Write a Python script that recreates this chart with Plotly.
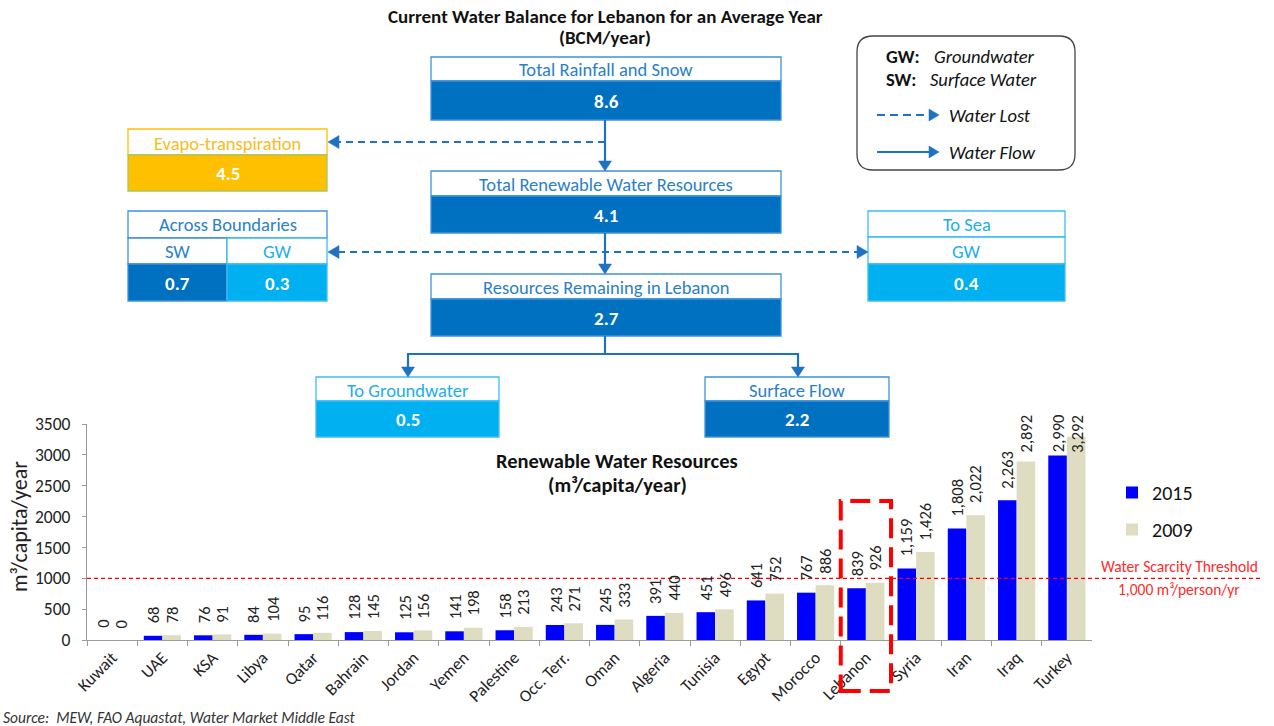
import plotly.graph_objects as go

W, H = 1274, 726

# ---- renewable water resources per capita (m3/capita/year) ----
countries = ["Kuwait", "UAE", "KSA", "Libya", "Qatar", "Bahrain", "Jordan", "Yemen",
             "Palestine", "Occ. Terr.", "Oman", "Algeria", "Tunisia", "Egypt", "Morocco",
             "Lebanon", "Syria", "Iran", "Iraq", "Turkey"]
res_2015 = [0, 68, 76, 84, 95, 128, 125, 141, 158, 243, 245, 391, 451, 641, 767,
            839, 1159, 1808, 2263, 2990]
res_2009 = [0, 78, 91, 104, 116, 145, 156, 198, 213, 271, 333, 440, 496, 752, 886,
            926, 1426, 2022, 2892, 3292]
series_names = ["2015", "2009"]
y_ticks = [0, 500, 1000, 1500, 2000, 2500, 3000, 3500]
scarcity_threshold = 1000
highlight_country = "Lebanon"

# ---- water balance for Lebanon (BCM/year) ----
rainfall_snow = 8.6
evapotranspiration = 4.5
total_renewable = 4.1
boundary_sw = 0.7
boundary_gw = 0.3
to_sea_gw = 0.4
remaining_lebanon = 2.7
to_groundwater = 0.5
surface_flow = 2.2

FONT = "Carlito, Lato, 'Open Sans', sans-serif"
DARK = "#0070C0"
LIGHT = "#00B0F0"
GOLD = "#FFC000"
DARK_TXT = "#2A7FC9"
LIGHT_TXT = "#1AAEEE"
DARK_EDGE = "#3F93DA"
LIGHT_EDGE = "#3DBDF3"
FLOW = "#1F72C2"
RED = "#FF0000"

HDR = 18.5   # box header text size
VAL = 19     # box value text size


def X(px):
    return px / W


def Y(py):
    return 1 - py / H


shapes = []
annotations = []


def rect(x0, y0, x1, y1, fill=None, edge=None, lw=1.3):
    shapes.append(dict(type="rect", xref="paper", yref="paper",
                       x0=X(x0), x1=X(x1), y0=Y(y1), y1=Y(y0),
                       fillcolor=fill or "rgba(0,0,0,0)",
                       line=dict(color=edge or "rgba(0,0,0,0)", width=lw if edge else 0),
                       layer="above"))


def line(x0, y0, x1, y1, color=FLOW, width=2.2, dash=None):
    ln = dict(color=color, width=width)
    if dash:
        ln["dash"] = dash
    shapes.append(dict(type="line", xref="paper", yref="paper",
                       x0=X(x0), x1=X(x1), y0=Y(y0), y1=Y(y1), line=ln, layer="above"))


def head(tx, ty, d, w=13, l=10, color=FLOW):
    if d == "down":
        pts = [(tx - w / 2, ty - l), (tx + w / 2, ty - l), (tx, ty)]
    elif d == "left":
        pts = [(tx + l, ty - w / 2), (tx + l, ty + w / 2), (tx, ty)]
    else:
        pts = [(tx - l, ty - w / 2), (tx - l, ty + w / 2), (tx, ty)]
    path = "M" + " L".join(f"{X(a):.5f},{Y(b):.5f}" for a, b in pts) + " Z"
    shapes.append(dict(type="path", xref="paper", yref="paper", path=path,
                       fillcolor=color, line=dict(color=color, width=0.5), layer="above"))


def text(x, y, s, size=15, color="#222", bold=False, italic=False,
         xanchor="center", angle=0):
    if bold:
        s = f"<b>{s}</b>"
    if italic:
        s = f"<i>{s}</i>"
    annotations.append(dict(x=X(x), y=Y(y), xref="paper", yref="paper", text=s,
                            showarrow=False, xanchor=xanchor, yanchor="middle",
                            textangle=angle,
                            font=dict(family=FONT, size=size, color=color)))


def flow_box(x0, x1, top, mid, bottom, title, value, fill, title_color, edge,
             value_edge=None):
    rect(x0, top, x1, mid, fill="white", edge=edge)
    rect(x0, mid, x1, bottom, fill=fill, edge=value_edge or edge)
    text((x0 + x1) / 2, (top + mid) / 2 + 1, title, HDR, title_color)
    text((x0 + x1) / 2, (mid + bottom) / 2 + 1, f"{value:.1f}", VAL, "white", bold=True)


# ---- water balance diagram ----
text(605, 16, "Current Water Balance for Lebanon for an Average Year", 19, "#111", bold=True)
text(605, 38, "(BCM/year)", 19, "#111", bold=True)

flow_box(431, 781, 57, 81, 120, "Total Rainfall and Snow", rainfall_snow, DARK, DARK_TXT, DARK_EDGE)
flow_box(128, 327, 129, 155, 191, "Evapo-transpiration", evapotranspiration, GOLD,
         "#F7BD1C", GOLD, value_edge="#A9C55E")
flow_box(431, 781, 171, 196, 233, "Total Renewable Water Resources", total_renewable,
         DARK, DARK_TXT, DARK_EDGE)
flow_box(431, 781, 274, 299, 336, "Resources Remaining in Lebanon", remaining_lebanon,
         DARK, DARK_TXT, DARK_EDGE)
flow_box(316, 499, 377, 401, 437, "To Groundwater", to_groundwater, LIGHT, LIGHT_TXT, LIGHT_EDGE)
flow_box(705, 889, 377, 401, 437, "Surface Flow", surface_flow, DARK, DARK_TXT, DARK_EDGE)

# across boundaries (split SW / GW)
rect(128, 211, 327, 238, fill="white", edge=DARK_EDGE)
text(227.5, 225, "Across Boundaries", HDR, DARK_TXT)
rect(128, 238, 227, 264, fill="white", edge=DARK_EDGE)
rect(227, 238, 327, 264, fill="white", edge=LIGHT_EDGE)
text(177.5, 252, "SW", HDR, DARK_TXT)
text(277, 252, "GW", HDR, LIGHT_TXT)
rect(128, 264, 227, 301, fill=DARK, edge=DARK_EDGE)
rect(227, 264, 327, 301, fill=LIGHT, edge=LIGHT_EDGE)
text(177.5, 283, f"{boundary_sw:.1f}", VAL, "white", bold=True)
text(277, 283, f"{boundary_gw:.1f}", VAL, "white", bold=True)

# to sea
rect(868, 211, 1065, 237, fill="white", edge=LIGHT_EDGE)
text(966.5, 225, "To Sea", HDR, LIGHT_TXT)
rect(868, 237, 1065, 264, fill="white", edge=LIGHT_EDGE)
text(966.5, 252, "GW", HDR, LIGHT_TXT)
rect(868, 264, 1065, 301, fill=LIGHT, edge=LIGHT_EDGE)
text(966.5, 283, f"{to_sea_gw:.1f}", VAL, "white", bold=True)

# flows
DASH = "7px,5px"
line(605, 120, 605, 161)
head(605, 171, "down")
line(605, 142, 338, 142, dash=DASH)
head(328, 142, "left", w=13, l=11)
line(605, 233, 605, 264)
head(605, 274, "down")
line(338, 252, 857, 252, dash=DASH)
head(328, 252, "left", w=13, l=11)
head(868, 252, "right", w=13, l=11)
line(605, 336, 605, 354)
line(407, 354, 799, 354)
line(408, 354, 408, 367)
line(798, 354, 798, 367)
head(408, 377, "down")
head(798, 377, "down")

# key box
x0, y0, x1, y1, r = 857, 36, 1075, 170, 16
pts = (f"M{X(x0 + r)},{Y(y0)} L{X(x1 - r)},{Y(y0)} Q{X(x1)},{Y(y0)} {X(x1)},{Y(y0 + r)} "
       f"L{X(x1)},{Y(y1 - r)} Q{X(x1)},{Y(y1)} {X(x1 - r)},{Y(y1)} "
       f"L{X(x0 + r)},{Y(y1)} Q{X(x0)},{Y(y1)} {X(x0)},{Y(y1 - r)} "
       f"L{X(x0)},{Y(y0 + r)} Q{X(x0)},{Y(y0)} {X(x0 + r)},{Y(y0)} Z")
shapes.append(dict(type="path", xref="paper", yref="paper", path=pts,
                   fillcolor="white", line=dict(color="#444", width=1.3), layer="above"))
KEY = 18.5
text(884, 57, "GW:", KEY, "#111", bold=True, xanchor="left")
text(932, 57, "Groundwater", KEY, "#111", italic=True, xanchor="left")
text(884, 79, "SW:", KEY, "#111", bold=True, xanchor="left")
text(928, 79, "Surface Water", KEY, "#111", italic=True, xanchor="left")
line(877, 115, 930, 115, dash="8px,5px")
head(939, 115, "right", w=12, l=10)
text(947, 115, "Water Lost", KEY, "#111", italic=True, xanchor="left")
line(877, 152, 930, 152)
head(939, 152, "right", w=12, l=10)
text(947, 152, "Water Flow", KEY, "#111", italic=True, xanchor="left")

# ---- bar chart ----
PX_L, PX_R, PX_T, PX_B = 87, 1092, 424, 640
Y_MAX = y_ticks[-1]
BARGAP = 0.26
LBL = 16.5

fig = go.Figure()
fig.add_trace(go.Bar(x=countries, y=res_2015, name=series_names[0], legendgroup="a",
                     marker=dict(color="#0000FF", line=dict(width=0)),
                     hoverinfo="skip"))
fig.add_trace(go.Bar(x=countries, y=res_2009, name=series_names[1], legendgroup="b",
                     marker=dict(color="#DEDDC2", line=dict(width=0)),
                     hoverinfo="skip"))

# rotated value labels above each bar
px_per_unit = (PX_B - PX_T) / Y_MAX
cat_w = (PX_R - PX_L) / len(countries)
bar_w = cat_w * (1 - BARGAP) / 2
label_cap = PX_B - 412  # highest allowed label top, measured from the baseline


def fmt(v):
    return f"{v:,}"


for series, off in ((res_2015, -bar_w / 2), (res_2009, bar_w / 2)):
    for c, v in zip(countries, series):
        s = fmt(v)
        est_len = sum(0.26 * LBL if ch == "," else 0.58 * LBL for ch in s)
        shift = min(10, label_cap - est_len - v * px_per_unit)
        annotations.append(dict(x=c, y=v, xref="x", yref="y", text=s, showarrow=False,
                                textangle=-90, xanchor="center", yanchor="bottom",
                                xshift=off, yshift=shift,
                                font=dict(family=FONT, size=LBL, color="#222")))

# water scarcity threshold
shapes.append(dict(type="line", xref="paper", yref="y", x0=X(PX_L), x1=X(1262),
                   y0=scarcity_threshold, y1=scarcity_threshold,
                   line=dict(color=RED, width=1.3, dash="4px,3px"), layer="above"))
text(1179, 566, "Water Scarcity Threshold", 15.5, "#FF2A2A")
text(1179, 589, f"{scarcity_threshold:,} m³/person/yr", 15.5, "#FF2A2A")

# highlighted country frame
hi = countries.index(highlight_country)
shapes.append(dict(type="rect", xref="x", yref="paper", x0=hi - 0.5, x1=hi + 0.5,
                   y0=Y(691), y1=Y(501), fillcolor="rgba(0,0,0,0)",
                   line=dict(color=RED, width=4, dash="20px,9px"), layer="above"))

text(617, 461, "Renewable Water Resources", 20.5, "#111", bold=True)
text(617, 485, "(m³/capita/year)", 20.5, "#111", bold=True)
text(19, 527, "m³/capita/year", 22, "#222", angle=-90)
text(1, 717, "Source:  MEW, FAO Aquastat, Water Market Middle East", 15.5, "#333",
     italic=True, xanchor="left")

fig.update_layout(
    width=W, height=H, margin=dict(l=0, r=0, t=0, b=0, autoexpand=False),
    paper_bgcolor="white", plot_bgcolor="white",
    barmode="group", bargap=BARGAP, bargroupgap=0,
    font=dict(family=FONT, color="#222"),
    xaxis=dict(domain=[X(PX_L), X(PX_R)], type="category", tickangle=-45,
               automargin=False,
               showline=True, linecolor="#9A9A9A", linewidth=1.2,
               ticks="outside", ticklen=5, tickcolor="#9A9A9A", tickson="boundaries",
               tickfont=dict(family=FONT, size=17, color="#222"), showgrid=False),
    yaxis=dict(domain=[Y(PX_B), Y(PX_T)], range=[0, Y_MAX], tickvals=y_ticks,
               automargin=False, ticklabelstandoff=8,
               showline=True, linecolor="#9A9A9A", linewidth=1.2,
               ticks="outside", ticklen=4, tickcolor="#9A9A9A", showgrid=False,
               zeroline=False, tickfont=dict(family=FONT, size=17.5, color="#222")),
    legend=dict(x=X(1112), y=Y(473), xanchor="left", yanchor="top",
                font=dict(family=FONT, size=20, color="#111"),
                tracegroupgap=8, bgcolor="rgba(0,0,0,0)"),
    shapes=shapes, annotations=annotations,
)

fig.write_html("out.html")
